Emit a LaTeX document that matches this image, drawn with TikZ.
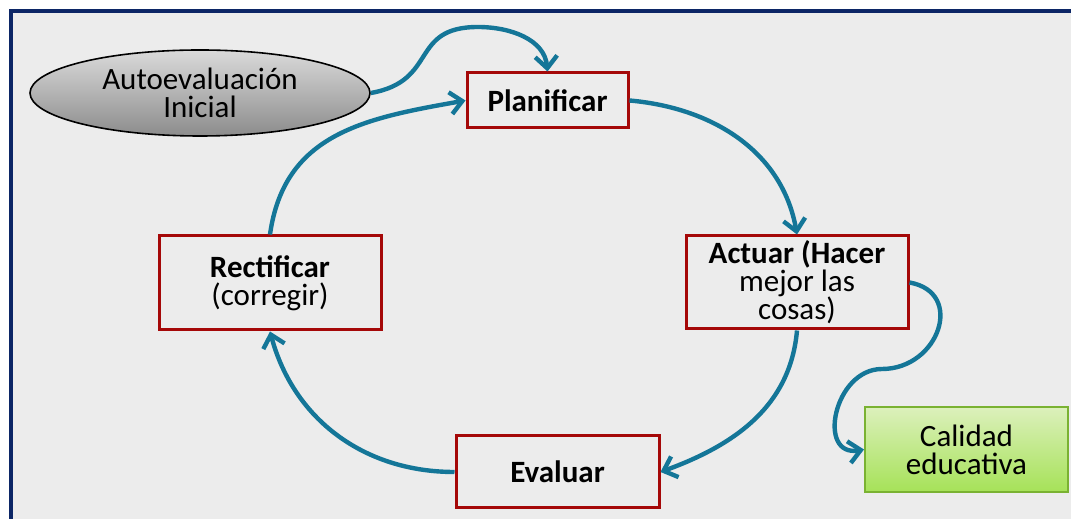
\documentclass[tikz,border=0pt]{standalone}
\usepackage{fontspec}
\setmainfont{Carlito}
\usepackage{tikz}
\usetikzlibrary{arrows.meta,shapes.geometric}
\definecolor{fondo}{RGB}{236,236,236}
\definecolor{marino}{RGB}{12,38,102}
\definecolor{rojo}{RGB}{165,8,8}
\definecolor{azul}{RGB}{20,118,152}
\definecolor{grisclaro}{RGB}{218,218,218}
\definecolor{grisoscuro}{RGB}{140,140,140}
\definecolor{verdeclaro}{RGB}{220,240,188}
\definecolor{verdeoscuro}{RGB}{166,226,88}
\definecolor{verdeborde}{RGB}{122,178,50}

\begin{document}
\begin{tikzpicture}[x=0.5pt,y=0.5pt,
  every node/.style={font={\fontsize{15.5}{14}\selectfont}},
  caja/.style={draw=rojo,line width=1.5pt,fill=fondo,rectangle,align=center,inner sep=0pt},
  flecha/.style={draw=azul,line width=2.2pt,-{Straight Barb[length=6pt,width=11pt]}}]
\useasboundingbox (0,0) rectangle (1071,519);
% fondo y marco
\fill[fondo] (11,0) rectangle (1071,508);
\draw[marino,line width=2pt] (11,0) -- (11,508) -- (1071,508);
% ciclo
\node[caja,minimum width=80.5pt,minimum height=27.5pt] (plan) at (547.5,418.5) {\textbf{Planificar}};
\node[caja,minimum width=111pt,minimum height=46.5pt] (actuar) at (797,236.5) {\textbf{Actuar (Hacer}\\mejor las\\cosas)};
\node[caja,minimum width=101.5pt,minimum height=36pt] (evalua) at (557.5,47) {\textbf{Evaluar}};
\node[caja,minimum width=111pt,minimum height=47pt] (rectif) at (270,236) {\textbf{Rectificar}\\(corregir)};
\node[ellipse,draw=black,line width=0.8pt,top color=grisclaro,bottom color=grisoscuro,minimum width=170pt,minimum height=43pt,align=center,inner sep=0pt] (autoev) at (200,426) {Autoevaluación\\Inicial};
\node[draw=verdeborde,line width=1pt,top color=verdeclaro,bottom color=verdeoscuro,minimum width=101.5pt,minimum height=42.5pt,align=center,inner sep=0pt] (calidad) at (966.5,69.5) {Calidad\\educativa};
\coordinate (cima) at (478,492);
\coordinate (vuelta) at (882,150);
\draw[flecha] (rectif.north) to[out=82,in=190,looseness=1.1] (plan.west);
\draw[flecha] (plan.east) to[out=-5,in=100] (actuar.north);
\draw[flecha] (actuar.south) to[out=-95,in=20] (evalua.east);
\draw[flecha] (evalua.west) to[out=180,in=-75] (rectif.south);
\draw[flecha] (autoev.east) to[out=10,in=180,looseness=1.4] (cima) to[out=0,in=95] (plan.north);
\draw[flecha] (actuar.east) to[out=-10,in=0,looseness=1.6] (vuelta) to[out=180,in=190,looseness=1.5] (calidad.west);
\end{tikzpicture}
\end{document}
